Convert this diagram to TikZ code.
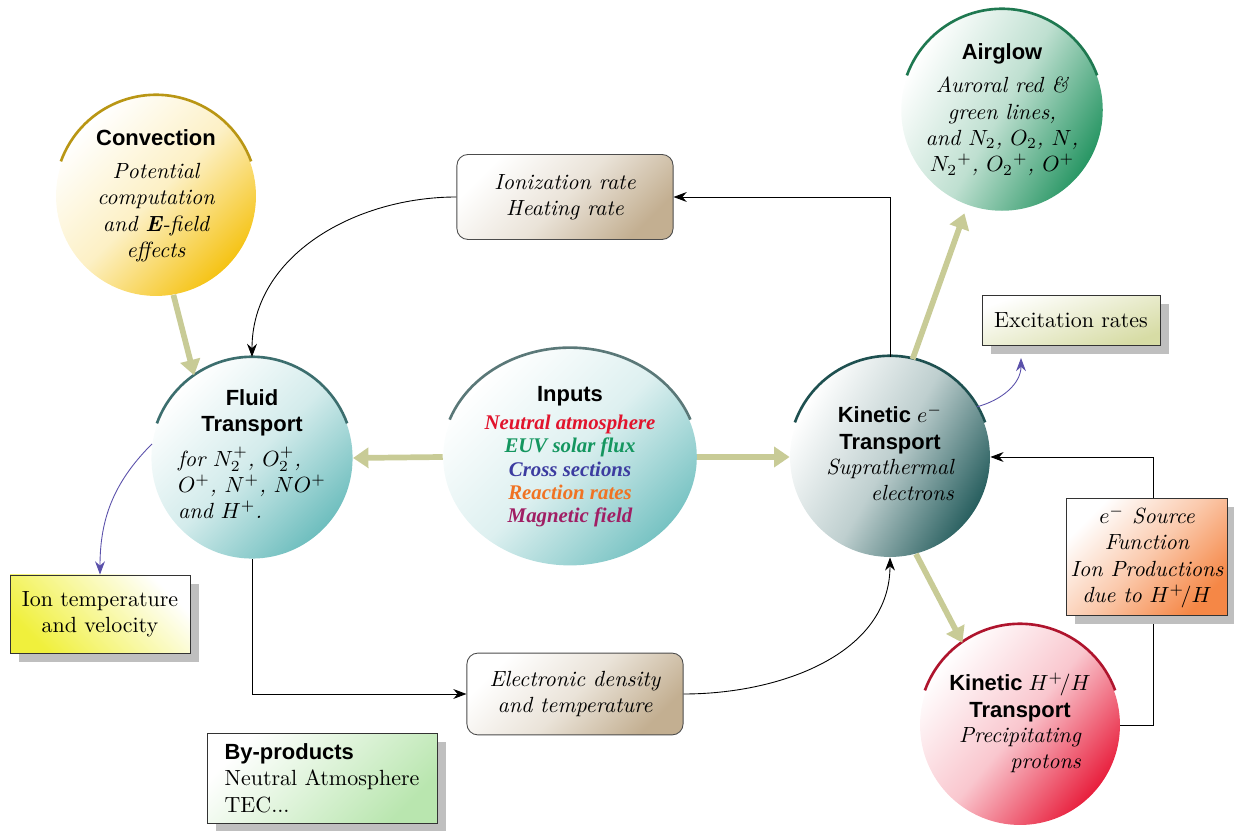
\documentclass[tikz,border=0pt]{standalone}
\usepackage{fontspec}
\newfontfamily\headfont{Liberation Sans}
\newfontfamily\inputfont{Liberation Serif}
\usetikzlibrary{arrows.meta}
\usetikzlibrary{shapes.geometric, positioning, shadows}

% colours
\definecolor{convcol}{RGB}{245,195,20}
\definecolor{convdark}{RGB}{185,150,20}
\definecolor{aircol}{RGB}{40,150,100}
\definecolor{airdark}{RGB}{30,120,80}
\definecolor{fluidcol}{RGB}{110,190,190}
\definecolor{fluiddark}{RGB}{60,110,110}
\definecolor{inputcol}{RGB}{120,195,195}
\definecolor{inputdark}{RGB}{90,120,120}
\definecolor{kinecol}{RGB}{40,95,95}
\definecolor{kinedark}{RGB}{30,80,80}
\definecolor{kinhcol}{RGB}{232,30,60}
\definecolor{kinhdark}{RGB}{175,20,45}
\definecolor{ratecol}{RGB}{195,175,145}
\definecolor{excitcol}{RGB}{215,220,165}
\definecolor{iontcol}{RGB}{240,240,60}
\definecolor{byprodcol}{RGB}{185,230,175}
\definecolor{esrccol}{RGB}{245,135,70}
\definecolor{olivearrow}{RGB}{200,203,150}
\definecolor{sideblue}{RGB}{90,80,170}
\definecolor{inred}{RGB}{225,20,45}
\definecolor{ingreen}{RGB}{20,150,95}
\definecolor{inblue}{RGB}{60,60,160}
\definecolor{inorange}{RGB}{240,115,35}
\definecolor{inpurple}{RGB}{160,30,100}

\newcommand{\hd}[1]{{\headfont\bfseries\upshape #1}}
\newcommand{\inp}[2]{\textcolor{#1}{\inputfont\bfseries\itshape #2}}

\tikzset{
    bubble/.style={circle, minimum size=3.2cm, inner sep=0pt, align=center, font=\itshape},
    ratebox/.style={rectangle, rounded corners=5pt, draw=black!70, align=center, font=\itshape,
        top color=white, bottom color=ratecol, middle color=ratecol!35, shading angle=45},
    notebox/.style={rectangle, draw=black!80, align=center,
        drop shadow={shadow xshift=4pt, shadow yshift=-4pt, fill=gray!50, opacity=1}},
    bigarrow/.style={line width=2.6pt, draw=olivearrow, -{Triangle[length=7pt, width=9pt, fill=olivearrow]}},
    flow/.style={-{Stealth[length=6pt]}, thin},
    side/.style={-{Stealth[length=6pt]}, draw=sideblue, thin},
}

\begin{document}
\begin{tikzpicture}[x=0.016cm, y=-0.016cm]
\useasboundingbox (0,0) rectangle (1234,831);

    % Circles
    \node[bubble, top color=white, bottom color=convcol, middle color=convcol!25, shading angle=45] (conv) at (156,196)
        {\hd{Convection}\\[3pt] Potential\\ computation\\ and \textbf{E}-field\\ effects};
    \node[bubble, top color=white, bottom color=aircol, middle color=aircol!30, shading angle=60] (airglow) at (1002,110)
        {\hd{Airglow}\\[3pt] Auroral red \&\\ green lines,\\ and $N_2$, $O_2$, $N$,\\ $N_2{}^+$, $O_2{}^+$, $O^+$};
    \node[bubble, top color=white, bottom color=fluidcol, middle color=fluidcol!30, shading angle=45] (fluid) at (252,458)
        {\hd{Fluid}\\ \hd{Transport}\\[4pt]
         \begin{tabular}{@{}l@{}} for $N_2^+$, $O_2^+$,\\ $O^+$, $N^+$, $NO^+$\\ and $H^+$.\end{tabular}};
    \node[ellipse, minimum width=4.06cm, minimum height=3.47cm, inner sep=0pt, align=center,
        font=\fontsize{9.5}{10.6}\selectfont,
        top color=white, bottom color=inputcol, middle color=inputcol!25, shading angle=45] (inputs) at (570,457)
        {{\normalsize\hd{Inputs}}\\[2pt]
         \inp{inred}{Neutral atmosphere}\\
         \inp{ingreen}{EUV solar flux}\\
         \inp{inblue}{Cross sections}\\
         \inp{inorange}{Reaction rates}\\
         \inp{inpurple}{Magnetic field}};
    \node[bubble, top color=white, bottom color=kinecol, middle color=kinecol!30, shading angle=60] (kine) at (890,457)
        {\hd{Kinetic $e^-$}\\ \hd{Transport}\\
         \begin{tabular}{@{}r@{}} Suprathermal\\ electrons\end{tabular}};
    \node[bubble, top color=white, bottom color=kinhcol, middle color=kinhcol!25, shading angle=50] (kinh) at (1020,725)
        {\hd{Kinetic $H^+\!/H$}\\ \hd{Transport}\\
         \begin{tabular}{@{}r@{}} Precipitating\\ protons\end{tabular}};

    % top rims
    \foreach \n/\c in {conv/convdark, airglow/airdark, fluid/fluiddark, kine/kinedark, kinh/kinhdark}
        \draw[\c, line width=1.2pt] (\n.center) ++(160:1.62cm) arc[start angle=160, end angle=20, radius=1.62cm];
    \draw[inputdark, line width=1.2pt] (inputs.center) ++(160:2.05cm and 1.75cm)
        arc[start angle=160, end angle=20, x radius=2.05cm, y radius=1.75cm];

    % Rate boxes
    \node[ratebox, minimum width=3.46cm, minimum height=1.36cm] (ionrate) at (565,197) {Ionization rate\\ Heating rate};
    \node[ratebox, minimum width=3.46cm, minimum height=1.31cm] (elecdens) at (575,694) {Electronic density\\ and temperature};

    % Output boxes
    \node[notebox, minimum width=2.85cm, minimum height=0.8cm, top color=white, bottom color=excitcol, shading angle=20] (excit) at (1071,320) {Excitation rates};
    \node[notebox, minimum width=2.88cm, minimum height=1.25cm, top color=white, bottom color=iontcol, shading angle=-45] (iontemp) at (100,614) {Ion temperature\\ and velocity};
    \node[notebox, align=left, minimum width=3.68cm, minimum height=1.44cm, top color=white, bottom color=byprodcol, shading angle=45] (byprod) at (322,778)
        {\hd{By-products}\\ Neutral Atmosphere\\ TEC...};

    % Big arrows
    \draw[bigarrow] (conv.-80) -- (fluid.125);
    \draw[bigarrow] (inputs.west) -- (fluid.east);
    \draw[bigarrow] (inputs.east) -- (kine.west);
    \draw[bigarrow, shorten >=4pt] (kine.77) -- (airglow.250);
    \draw[bigarrow] (kine.-75) -- (kinh.125);

    % Feedback loops
    \draw[flow] (kine.north) -- (kine.north |- ionrate.east) -- (ionrate.east);
    \draw[flow] (ionrate.west) to[out=180, in=90] (fluid.north);
    \draw[flow] (fluid.south) |- (elecdens.west);
    \draw[flow] (elecdens.east) to[out=0, in=-90] (kine.south);
    \coordinate (loop) at (1153,457);
    \draw[flow] (kinh.east) -| (loop) -- (kine.east);

    % Source box on the loop
    \node[notebox, font=\itshape, inner xsep=2pt, minimum width=2.3cm, minimum height=1.76cm, top color=white, bottom color=esrccol, middle color=esrccol!45, shading angle=45] (esource) at (1147,557)
        {$e^-$ Source\\ Function\\ Ion Productions\\ due to $H^+\!/H$};

    % Side outputs
    \coordinate (exin) at (1021,358);
    \draw[side] (kine.30) to[out=15, in=-90] (exin);
    \draw[side] (fluid.172) to[out=225, in=90] (iontemp.north);

\end{tikzpicture}
\end{document}
